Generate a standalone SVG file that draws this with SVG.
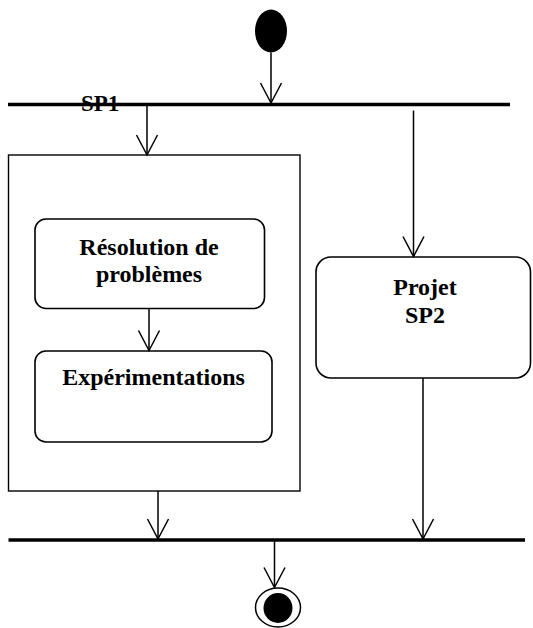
<svg xmlns="http://www.w3.org/2000/svg" width="533" height="628" viewBox="0 0 533 628">
  <style>
    .bar { stroke: #000; stroke-width: 3.5; fill: none; }
    .box { stroke: #000; stroke-width: 1.6; fill: #fff; }
    .frame { stroke: #000; stroke-width: 1.4; fill: #fff; }
    .edge { stroke: #000; stroke-width: 1.5; fill: none; }
    .lbl { font-family: "Liberation Serif", "Times New Roman", serif; font-weight: bold; font-size: 24px; fill: #000; text-anchor: middle; }
    .sp1 { font-family: "Liberation Serif", "Times New Roman", serif; font-weight: bold; font-size: 23px; fill: #000; }
  </style>
  <defs>
    <marker id="open" markerUnits="userSpaceOnUse" markerWidth="30" markerHeight="30" viewBox="-25 -15 30 30" refX="0" refY="0" orient="auto" overflow="visible">
      <path d="M-20,-10.5 L0,0 L-20,10.5" fill="none" stroke="#000" stroke-width="1.5"/>
    </marker>
  </defs>

  <rect width="533" height="628" fill="#fff"/>

  <g id="frame-sp1">
    <rect class="frame" x="8.5" y="155" width="291.5" height="336"/>
  </g>

  <g id="start">
    <ellipse cx="271" cy="31" rx="16" ry="21.5" fill="#000"/>
  </g>

  <g id="fork">
    <line class="bar" x1="8" y1="104.5" x2="510" y2="104.5"/>
    <text class="sp1" x="81" y="111">SP1</text>
  </g>

  <g id="resolution">
    <rect class="box" x="35" y="219" width="229.5" height="89.5" rx="11" ry="11"/>
    <text class="lbl" x="149" y="255">Résolution de</text>
    <text class="lbl" x="149" y="282">problèmes</text>
  </g>

  <g id="experimentations">
    <rect class="box" x="35" y="351" width="237" height="91" rx="11" ry="11"/>
    <text class="lbl" x="153.5" y="385">Expérimentations</text>
  </g>

  <g id="projet">
    <rect class="box" x="316" y="257" width="214.5" height="121" rx="15" ry="15"/>
    <text class="lbl" x="425" y="295">Projet</text>
    <text class="lbl" x="425" y="323">SP2</text>
  </g>

  <g id="join">
    <line class="bar" x1="8.5" y1="540" x2="525" y2="540"/>
  </g>

  <g id="end">
    <ellipse cx="278" cy="607.5" rx="22.5" ry="19.5" fill="#fff" stroke="#000" stroke-width="1.5"/>
    <ellipse cx="278" cy="608" rx="14.5" ry="15" fill="#000"/>
  </g>

  <g id="connectors">
    <line class="edge" x1="271" y1="52.5" x2="271" y2="103" marker-end="url(#open)"/>
    <line class="edge" x1="147" y1="106" x2="147" y2="155" marker-end="url(#open)"/>
    <line class="edge" x1="413.5" y1="110.5" x2="413.5" y2="256.5" marker-end="url(#open)"/>
    <line class="edge" x1="149" y1="308.5" x2="149" y2="350.5" marker-end="url(#open)"/>
    <line class="edge" x1="158" y1="491" x2="158" y2="539" marker-end="url(#open)"/>
    <line class="edge" x1="423" y1="378" x2="423" y2="539" marker-end="url(#open)"/>
    <line class="edge" x1="274.5" y1="541" x2="274.5" y2="587.5" marker-end="url(#open)"/>
  </g>
</svg>
